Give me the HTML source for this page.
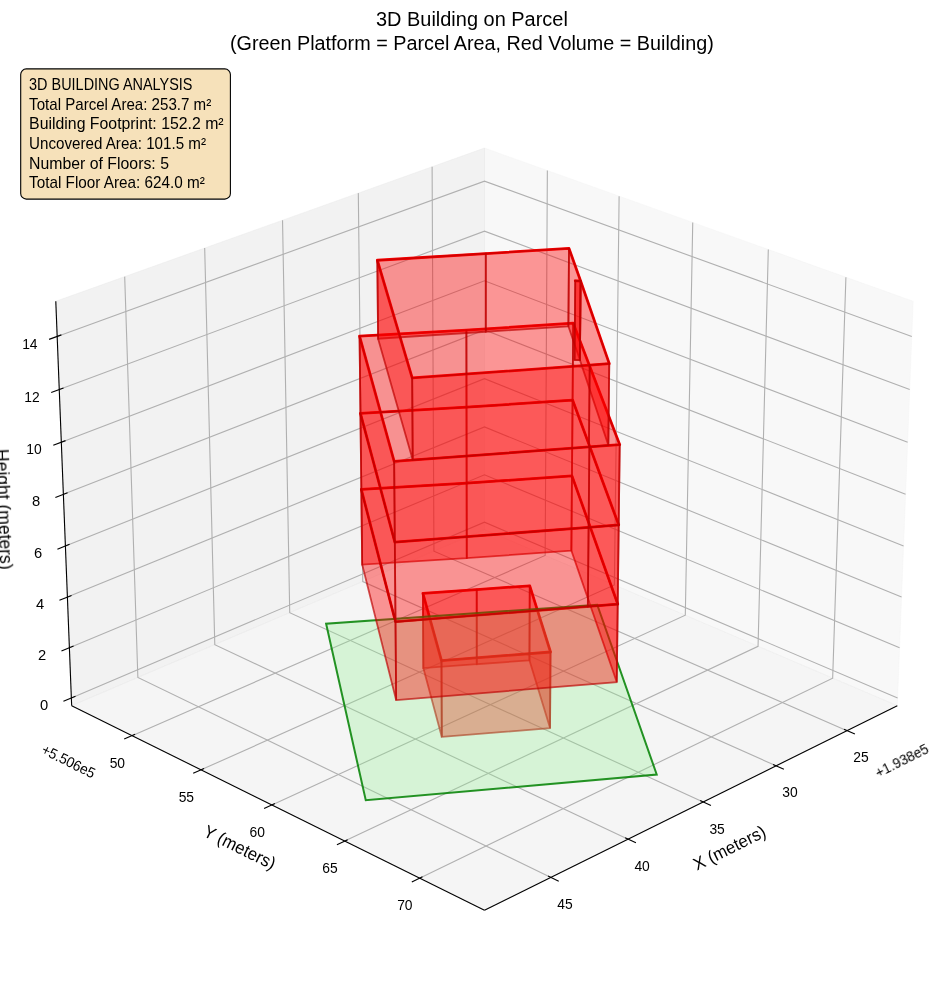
<!DOCTYPE html>
<html><head><meta charset="utf-8"><title>3D Building on Parcel</title>
<style>html,body{margin:0;padding:0;background:#fff;overflow:hidden}svg{display:block;font-family:"Liberation Sans",sans-serif}</style>
</head><body>
<svg width="944" height="992" viewBox="0 0 944 992">
<defs><filter id="nf" filterUnits="userSpaceOnUse" x="0" y="0" width="944" height="992"><feOffset dx="0" dy="0"/></filter></defs>
<rect width="944" height="992" fill="#fff"/>
<g stroke-width="1" stroke-linejoin="miter">
<polygon points="484.48,529.58 897.3,705.71 913.17,301.25 484.48,148.02" fill="rgb(242,242,242)" fill-opacity="0.5" stroke="rgb(242,242,242)" stroke-opacity="0.35"/>
<polygon points="484.48,529.58 71.67,705.71 55.79,301.25 484.48,148.02" fill="rgb(230,230,230)" fill-opacity="0.5" stroke="rgb(230,230,230)" stroke-opacity="0.35"/>
<polygon points="484.48,529.58 71.67,705.71 484.48,910.36 897.3,705.71" fill="rgb(236,236,236)" fill-opacity="0.5" stroke="rgb(236,236,236)" stroke-opacity="0.35"/>
</g>
<g fill="none" stroke="#b0b0b0" stroke-width="1.11" stroke-linejoin="miter">
<polyline points="846.99,730.65 433.93,551.15 432.11,166.74"/>
<polyline points="776.05,765.82 362.75,581.52 358.31,193.12"/>
<polyline points="703.12,801.97 289.73,612.67 282.53,220.21"/>
<polyline points="628.13,839.14 214.79,644.65 204.68,248.03"/>
<polyline points="550.99,877.39 137.86,677.47 124.69,276.63"/>
<polyline points="132.07,735.65 545.17,555.47 547.36,170.49"/>
<polyline points="201.06,769.85 614.37,585 619.12,196.14"/>
<polyline points="271.91,804.98 685.3,615.26 692.74,222.46"/>
<polyline points="344.72,841.07 758.05,646.3 768.31,249.47"/>
<polyline points="419.55,878.16 832.67,678.14 845.91,277.21"/>
<polyline points="71.37,697.92 484.48,522.21 897.6,697.92"/>
<polyline points="69.4,647.75 484.48,474.78 899.57,647.75"/>
<polyline points="67.41,597.11 484.48,426.92 901.56,597.11"/>
<polyline points="65.4,545.97 484.48,378.64 903.57,545.97"/>
<polyline points="63.37,494.34 484.48,329.92 905.59,494.34"/>
<polyline points="61.33,442.21 484.48,280.77 907.64,442.21"/>
<polyline points="59.26,389.57 484.48,231.17 909.7,389.57"/>
<polyline points="57.18,336.42 484.48,181.11 911.79,336.42"/>
</g>
<g fill="none" stroke="#000" stroke-width="1.11" stroke-linecap="butt">
<polyline points="55.79,301.25 71.67,705.71"/>
<polyline points="71.67,705.71 484.48,910.36"/>
<polyline points="484.48,910.36 897.3,705.71"/>
<path d="M843.96 729.33L854.88 734.08"/>
<path d="M773.03 764.47L783.9 769.32"/>
<path d="M700.12 800.6L710.94 805.55"/>
<path d="M625.15 837.74L635.91 842.81"/>
<path d="M548.02 875.95L558.73 881.13"/>
<path d="M135.09 734.33L124.19 739.09"/>
<path d="M204.07 768.5L193.2 773.36"/>
<path d="M274.91 803.6L264.1 808.56"/>
<path d="M347.7 839.66L336.94 844.73"/>
<path d="M422.52 876.73L411.81 881.91"/>
<path d="M75.51 696.16L63.45 701.28"/>
<path d="M73.55 646.02L61.46 651.06"/>
<path d="M71.57 595.41L59.45 600.35"/>
<path d="M69.58 544.3L57.41 549.16"/>
<path d="M67.57 492.71L55.36 497.47"/>
<path d="M65.53 440.61L53.29 445.28"/>
<path d="M63.48 388L51.2 392.58"/>
<path d="M61.4 334.88L49.09 339.36"/>
</g>
<g fill="none" stroke="rgb(255,0,0)" stroke-width="2.78" stroke-linejoin="round">
<polygon points="422.9,593.29 441.49,660.61 550.52,651.99 529.76,585.82 476.71,589.55"/>
<polygon points="361.31,489.46 395.49,621.73 617.73,604.09 571.97,475.89 466.64,483.2"/>
<polygon points="360.43,413.3 394.83,542.17 588.6,527.33 618.72,524.98 572.59,400.08 466.51,407.2"/>
<polygon points="359.54,336.04 394.15,461.4 589.38,446.96 619.73,444.67 573.22,323.19 466.38,330.11"/>
<polygon points="377.33,260.24 412.18,377.97 589.71,365.2 609.27,363.59 580.62,281 575.24,280.8 580.62,281 569,248.38 485.79,253.53"/>
</g>
<g fill="rgb(255,0,0)" fill-opacity="0.4" stroke="rgb(188,0,0)" stroke-opacity="0.68" stroke-width="1.8" stroke-linejoin="miter">
<polygon points="529.45,660.38 476.76,664.2 476.71,589.55 529.76,585.82"/>
<polygon points="476.76,664.2 423.34,668.03 422.9,593.29 476.71,589.55"/>
<polygon points="550.04,728.11 529.45,660.38 529.76,585.82 550.52,651.99"/>
<polygon points="423.34,668.03 441.8,736.93 441.49,660.61 422.9,593.29"/>
<polygon points="441.8,736.93 550.04,728.11 550.52,651.99 441.49,660.61"/>
</g>
<polygon points="326.12,623.75 365.77,800.24 656.71,774.5 597.22,604.69" fill="rgb(144,238,144)" fill-opacity="0.3" stroke="rgb(0,128,0)" stroke-opacity="0.85" stroke-width="2.0" stroke-linejoin="miter"/>
<g fill="rgb(255,0,0)" fill-opacity="0.4" stroke="rgb(188,0,0)" stroke-opacity="0.68" stroke-width="1.8" stroke-linejoin="miter">
<polygon points="571.37,550.65 466.76,558.14 466.64,483.2 571.97,475.89"/>
<polygon points="466.76,558.14 362.17,564.56 361.31,489.46 466.64,483.2"/>
<polygon points="616.75,682.05 571.37,550.65 571.97,475.89 617.73,604.09"/>
<polygon points="362.17,564.56 396.15,700.12 395.49,621.73 361.31,489.46"/>
<polygon points="396.15,700.12 616.75,682.05 617.73,604.09 395.49,621.73"/>
</g>
<g fill="rgb(255,0,0)" fill-opacity="0.4" stroke="rgb(188,0,0)" stroke-opacity="0.68" stroke-width="1.8" stroke-linejoin="miter">
<polygon points="571.97,475.89 466.64,483.2 466.51,407.2 572.59,400.08"/>
<polygon points="466.64,483.2 361.31,489.46 360.43,413.3 466.51,407.2"/>
<polygon points="617.73,604.09 571.97,475.89 572.59,400.08 618.72,524.98"/>
<polygon points="361.31,489.46 395.49,621.73 394.83,542.17 360.43,413.3"/>
<polygon points="587.83,606.51 617.73,604.09 618.72,524.98 588.6,527.33"/>
<polygon points="395.49,621.73 587.83,606.51 588.6,527.33 394.83,542.17"/>
</g>
<g fill="rgb(255,0,0)" fill-opacity="0.4" stroke="rgb(188,0,0)" stroke-opacity="0.68" stroke-width="1.8" stroke-linejoin="miter">
<polygon points="572.59,400.08 466.51,407.2 466.38,330.11 573.22,323.19"/>
<polygon points="466.51,407.2 360.43,413.3 359.54,336.04 466.38,330.11"/>
<polygon points="618.72,524.98 572.59,400.08 573.22,323.19 619.73,444.67"/>
<polygon points="360.43,413.3 394.83,542.17 394.15,461.4 359.54,336.04"/>
<polygon points="588.6,527.33 618.72,524.98 619.73,444.67 589.38,446.96"/>
<polygon points="394.83,542.17 588.6,527.33 589.38,446.96 394.15,461.4"/>
</g>
<g fill="rgb(255,0,0)" fill-opacity="0.4" stroke="rgb(188,0,0)" stroke-opacity="0.68" stroke-width="1.8" stroke-linejoin="miter">
<polygon points="568.4,326.46 485.78,331.77 485.79,253.53 569,248.38"/>
<polygon points="485.78,331.77 378.09,338.69 377.33,260.24 485.79,253.53"/>
<polygon points="579.93,360.07 568.4,326.46 569,248.38 580.62,281"/>
<polygon points="579.93,360.07 574.59,359.86 575.24,280.8 580.62,281"/>
<polygon points="574.59,359.86 579.93,360.07 580.62,281 575.24,280.8"/>
<polygon points="378.09,338.69 412.73,459.93 412.18,377.97 377.33,260.24"/>
<polygon points="608.33,445.13 579.93,360.07 580.62,281 609.27,363.59"/>
<polygon points="588.92,446.78 608.33,445.13 609.27,363.59 589.71,365.2"/>
<polygon points="412.73,459.93 588.92,446.78 589.71,365.2 412.18,377.97"/>
</g>
<g fill="#000" filter="url(#nf)">
<text x="860.99" y="762.25" font-size="14.72" text-anchor="middle" textLength="15.42" lengthAdjust="spacingAndGlyphs">25</text>
<text x="790.05" y="797.42" font-size="14.72" text-anchor="middle" textLength="15.42" lengthAdjust="spacingAndGlyphs">30</text>
<text x="717.12" y="833.57" font-size="14.72" text-anchor="middle" textLength="15.42" lengthAdjust="spacingAndGlyphs">35</text>
<text x="642.13" y="870.74" font-size="14.72" text-anchor="middle" textLength="15.42" lengthAdjust="spacingAndGlyphs">40</text>
<text x="564.99" y="908.99" font-size="14.72" text-anchor="middle" textLength="15.42" lengthAdjust="spacingAndGlyphs">45</text>
<text x="117.37" y="767.85" font-size="14.72" text-anchor="middle" textLength="15.42" lengthAdjust="spacingAndGlyphs">50</text>
<text x="186.36" y="802.05" font-size="14.72" text-anchor="middle" textLength="15.42" lengthAdjust="spacingAndGlyphs">55</text>
<text x="257.21" y="837.18" font-size="14.72" text-anchor="middle" textLength="15.42" lengthAdjust="spacingAndGlyphs">60</text>
<text x="330.02" y="873.27" font-size="14.72" text-anchor="middle" textLength="15.42" lengthAdjust="spacingAndGlyphs">65</text>
<text x="404.85" y="910.36" font-size="14.72" text-anchor="middle" textLength="15.42" lengthAdjust="spacingAndGlyphs">70</text>
<text x="44.07" y="710.02" font-size="14.72" text-anchor="middle">0</text>
<text x="42.1" y="659.85" font-size="14.72" text-anchor="middle">2</text>
<text x="40.11" y="609.21" font-size="14.72" text-anchor="middle">4</text>
<text x="38.1" y="558.07" font-size="14.72" text-anchor="middle">6</text>
<text x="36.07" y="506.44" font-size="14.72" text-anchor="middle">8</text>
<text x="34.03" y="454.31" font-size="14.72" text-anchor="middle" textLength="15.42" lengthAdjust="spacingAndGlyphs">10</text>
<text x="31.96" y="401.67" font-size="14.72" text-anchor="middle" textLength="15.42" lengthAdjust="spacingAndGlyphs">12</text>
<text x="29.88" y="348.52" font-size="14.72" text-anchor="middle" textLength="15.42" lengthAdjust="spacingAndGlyphs">14</text>
<text x="66.28" y="765.78" font-size="14.72" text-anchor="middle" transform="rotate(26.4 66.28 765.78)" textLength="57.81" lengthAdjust="spacingAndGlyphs">+5.506e5</text>
<text x="904.12" y="765.28" font-size="14.72" text-anchor="middle" transform="rotate(-26.4 904.12 765.28)" textLength="57.81" lengthAdjust="spacingAndGlyphs">+1.938e5</text>
<text x="237.03" y="852.76" font-size="17.67" text-anchor="middle" transform="rotate(26.4 237.03 852.76)" textLength="77.82" lengthAdjust="spacingAndGlyphs">Y (meters)</text>
<text x="732.17" y="853.26" font-size="17.67" text-anchor="middle" transform="rotate(-26.4 732.17 853.26)" textLength="78.52" lengthAdjust="spacingAndGlyphs">X (meters)</text>
<text x="-1.4" y="509.5" font-size="17.67" text-anchor="middle" transform="rotate(87.8 -1.4 509.5)" textLength="120.72" lengthAdjust="spacingAndGlyphs">Height (meters)</text>
<text x="471.9" y="25.6" font-size="20.61" text-anchor="middle" textLength="191.91" lengthAdjust="spacingAndGlyphs">3D Building on Parcel</text>
<text x="471.9" y="49.6" font-size="20.61" text-anchor="middle" textLength="483.9" lengthAdjust="spacingAndGlyphs">(Green Platform = Parcel Area, Red Volume = Building)</text>
</g>
<rect x="20.7" y="68.9" width="209.7" height="130.2" rx="5.6" ry="5.6" fill="rgb(245,222,179)" fill-opacity="0.9" stroke="#000" stroke-width="1.1"/>
<g fill="#000" filter="url(#nf)">
<text x="29.1" y="89.7" font-size="16.2" text-anchor="start" textLength="163.39" lengthAdjust="spacingAndGlyphs">3D BUILDING ANALYSIS</text>
<text x="29.1" y="109.6" font-size="16.2" text-anchor="start" textLength="182.12" lengthAdjust="spacingAndGlyphs">Total Parcel Area: 253.7 m²</text>
<text x="29.1" y="129.2" font-size="16.2" text-anchor="start" textLength="194.56" lengthAdjust="spacingAndGlyphs">Building Footprint: 152.2 m²</text>
<text x="29.1" y="149" font-size="16.2" text-anchor="start" textLength="176.87" lengthAdjust="spacingAndGlyphs">Uncovered Area: 101.5 m²</text>
<text x="29.1" y="168.6" font-size="16.2" text-anchor="start" textLength="139.84" lengthAdjust="spacingAndGlyphs">Number of Floors: 5</text>
<text x="29.1" y="187.9" font-size="16.2" text-anchor="start" textLength="175.81" lengthAdjust="spacingAndGlyphs">Total Floor Area: 624.0 m²</text>
</g>
</svg>
</body></html>
